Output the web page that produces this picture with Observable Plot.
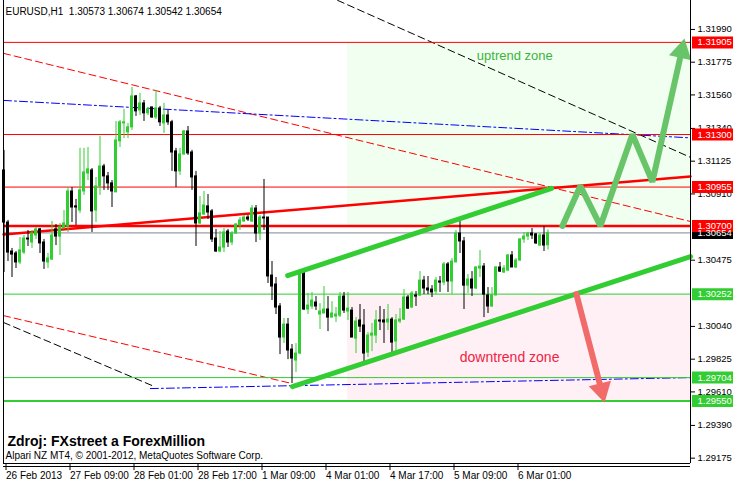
<!DOCTYPE html>
<html><head><meta charset="utf-8">
<script src="https://cdn.jsdelivr.net/npm/d3@7"></script>
<script src="https://cdn.jsdelivr.net/npm/@observablehq/plot@0.6"></script>
<style>body{margin:0;background:#fff}</style>
</head><body><div id="chart"></div>
<script>
// ---- data (EURUSD H1) ----
const open = [1.31064,1.30722,1.30532,1.30519,1.30460,1.30525,1.30617,1.30591,1.30637,1.30677,1.30591,1.30460,1.30479,1.30677,1.30630,1.30683,1.30696,1.30926,1.30828,1.30801,1.30926,1.31044,1.31064,1.30801,1.30959,1.31090,1.31025,1.30979,1.30920,1.31255,1.31373,1.31314,1.31347,1.31550,1.31458,1.31504,1.31439,1.31478,1.31412,1.31471,1.31373,1.31425,1.31380,1.31189,1.31058,1.31169,1.31320,1.31182,1.31025,1.30716,1.30775,1.30828,1.30795,1.30617,1.30532,1.30558,1.30663,1.30591,1.30650,1.30703,1.30729,1.30755,1.30729,1.30814,1.30650,1.30755,1.30755,1.30374,1.30315,1.30171,1.29967,1.30052,1.29888,1.29816,1.29862,1.30394,1.30151,1.30171,1.30197,1.30118,1.30125,1.30151,1.30098,1.30105,1.30111,1.30236,1.30138,1.30144,1.29960,1.30079,1.30046,1.29868,1.29980,1.29980,1.30079,1.30079,1.30066,1.30085,1.29941,1.30072,1.30085,1.30230,1.30164,1.30243,1.30243,1.30341,1.30289,1.30282,1.30269,1.30335,1.30328,1.30447,1.30335,1.30460,1.30650,1.30598,1.30308,1.30348,1.30289,1.30420,1.30433,1.30243,1.30171,1.30243,1.30427,1.30394,1.30407,1.30506,1.30427,1.30473,1.30611,1.30630,1.30650,1.30644,1.30571,1.30637,1.30573];
const high = [1.31196,1.30736,1.30552,1.30532,1.30624,1.30637,1.30670,1.30670,1.30690,1.30683,1.30611,1.30519,1.30729,1.30709,1.30716,1.30801,1.30952,1.30952,1.30874,1.31209,1.31209,1.31215,1.31077,1.31018,1.31288,1.31104,1.31051,1.30998,1.31386,1.31393,1.31465,1.31373,1.31609,1.31557,1.31570,1.31524,1.31478,1.31478,1.31590,1.31485,1.31504,1.31458,1.31393,1.31209,1.31209,1.31327,1.31353,1.31196,1.31058,1.30893,1.30926,1.30906,1.30808,1.30677,1.30663,1.30683,1.30677,1.30663,1.30716,1.30755,1.30768,1.30768,1.30834,1.30834,1.30768,1.31005,1.30755,1.30466,1.30361,1.30190,1.30092,1.30092,1.29921,1.29928,1.30394,1.30407,1.30256,1.30263,1.30236,1.30190,1.30302,1.30236,1.30203,1.30164,1.30263,1.30263,1.30263,1.30164,1.30098,1.30184,1.30151,1.29999,1.30059,1.30144,1.30171,1.30151,1.30184,1.30098,1.30118,1.30157,1.30282,1.30243,1.30269,1.30269,1.30400,1.30368,1.30368,1.30308,1.30361,1.30368,1.30460,1.30460,1.30486,1.30670,1.30742,1.30624,1.30381,1.30400,1.30433,1.30539,1.30453,1.30295,1.30295,1.30433,1.30460,1.30440,1.30512,1.30532,1.30486,1.30617,1.30657,1.30657,1.30683,1.30650,1.30650,1.30696,1.30674];
const low = [1.30394,1.30466,1.30361,1.30420,1.30447,1.30512,1.30565,1.30552,1.30611,1.30519,1.30414,1.30420,1.30473,1.30571,1.30506,1.30683,1.30657,1.30722,1.30703,1.30782,1.30900,1.30998,1.30657,1.30722,1.30900,1.30933,1.30933,1.30821,1.30920,1.31215,1.31274,1.31274,1.31327,1.31419,1.31425,1.31386,1.31425,1.31406,1.31399,1.31353,1.31307,1.31360,1.31058,1.30952,1.31031,1.31163,1.31163,1.30933,1.30565,1.30709,1.30768,1.30742,1.30591,1.30525,1.30525,1.30525,1.30558,1.30571,1.30644,1.30670,1.30722,1.30729,1.30722,1.30591,1.30604,1.30670,1.30322,1.30210,1.30118,1.29855,1.29928,1.29822,1.29665,1.29737,1.29855,1.30144,1.30118,1.30151,1.30144,1.30020,1.30125,1.30006,1.30098,1.30066,1.30098,1.30125,1.30079,1.29967,1.29862,1.30000,1.29809,1.29836,1.29875,1.29928,1.30013,1.29928,1.30013,1.29842,1.29868,1.30059,1.30079,1.30151,1.30157,1.30171,1.30236,1.30249,1.30249,1.30230,1.30249,1.30263,1.30308,1.30263,1.30249,1.30460,1.30519,1.30151,1.30256,1.30236,1.30282,1.30361,1.30098,1.30125,1.30164,1.30243,1.30394,1.30387,1.30400,1.30427,1.30420,1.30466,1.30585,1.30604,1.30611,1.30578,1.30565,1.30532,1.30542];
const close = [1.30722,1.30525,1.30512,1.30460,1.30539,1.30617,1.30611,1.30650,1.30677,1.30585,1.30466,1.30486,1.30637,1.30630,1.30690,1.30716,1.30926,1.30821,1.30821,1.30933,1.31051,1.31071,1.30795,1.30959,1.31090,1.31025,1.30979,1.30926,1.31261,1.31380,1.31380,1.31347,1.31550,1.31452,1.31504,1.31439,1.31465,1.31412,1.31471,1.31380,1.31425,1.31380,1.31182,1.31058,1.31169,1.31320,1.31176,1.31018,1.30716,1.30782,1.30834,1.30788,1.30611,1.30532,1.30558,1.30657,1.30591,1.30650,1.30709,1.30736,1.30755,1.30742,1.30814,1.30650,1.30755,1.30749,1.30368,1.30302,1.30164,1.29967,1.30052,1.29882,1.29829,1.29862,1.30381,1.30151,1.30177,1.30210,1.30171,1.30138,1.30151,1.30098,1.30125,1.30118,1.30236,1.30144,1.30157,1.29967,1.30072,1.30039,1.29862,1.29980,1.29993,1.30079,1.30072,1.30066,1.30085,1.29934,1.30079,1.30085,1.30230,1.30157,1.30256,1.30236,1.30341,1.30289,1.30276,1.30263,1.30341,1.30328,1.30447,1.30335,1.30466,1.30650,1.30598,1.30308,1.30348,1.30289,1.30427,1.30433,1.30249,1.30171,1.30243,1.30427,1.30400,1.30420,1.30506,1.30427,1.30473,1.30611,1.30630,1.30650,1.30637,1.30585,1.30637,1.30571,1.30654];

const priceTicks = [1.31990,1.31775,1.31560,1.31340,1.31125,1.30910,1.30475,1.30040,1.29825,1.29610,1.29390,1.29175];
const dateTickBars = [0,16,32,48,64,80,96,112,128];
const dateTickLabels = ["26 Feb 2013","27 Feb 09:00","28 Feb 01:00","28 Feb 17:00","1 Mar 09:00","4 Mar 01:00","4 Mar 17:00","5 Mar 09:00","6 Mar 01:00"];

const redLevels = [1.31905, 1.31300, 1.30955];
const redThickLevel = 1.30700;
const greenLevels = [1.30252, 1.29704];
const greenThickLevel = 1.29550;
const bidPrice = 1.30654;

// trend lines: [bar, price]
const redDashUpper = [[-0.125,1.31833],[171.625,1.30729]];
const redDashLower = [[-0.125,1.30111],[72,1.29665]];
const blackDashUpper = [[83.4,1.32181],[171.625,1.31150]];
const blackDashLower = [[-0.125,1.30066],[37,1.29652]];
const blueUpper = [[-0.125,1.31524],[171.625,1.31278]];
const blueLower = [[36.6,1.29632],[171.625,1.29704]];
const redRising = [[-0.125,1.30644],[171.625,1.31025]];
const greenChannelUpper = [[70.9,1.30374],[136.9,1.30946]];
const greenChannelLower = [[72.1,1.29645],[171.625,1.30499]];
const upPath = [[139.6,1.30700],[144.1,1.30962],[149.1,1.30700],[157.1,1.31300],[162.1,1.30990],[169.4,1.31846]];
const downPath = [[143.1,1.30252],[149.35,1.29623]];

const uptrendZone = {x1: 85.875, y1: 1.30700, y2: 1.31905};
const downtrendZone = {x1: 85.875, y1: 1.29550, y2: 1.30252};

const header = "EURUSD,H1  1.30573 1.30674 1.30542 1.30654";
const caption = "Zdroj: FXstreet a ForexMillion";
const copyright = "Alpari NZ MT4, © 2001-2012, MetaQuotes Software Corp.";

// ---- build ----
const xMin = -0.125, xMax = 171.625, yMin = 1.29140, yMax = 1.32180;
const candles = open.map((o, i) => ({i, open: o, high: high[i], low: low[i], close: close[i]}));
const cColor = d => d.close >= d.open ? "#32cd32" : "#000000";
const pts = a => a.map(([x, y]) => ({x, y}));
const labelMap = new Map(dateTickBars.map((b, i) => [b, dateTickLabels[i]]));
const RED = "#ff0000", GREEN = "#32cd32";

const levelLabels = [
  {p: bidPrice, bg: "#000000"},
  ...redLevels.map(p => ({p, bg: RED})),
  {p: redThickLevel, bg: RED},
  ...greenLevels.map(p => ({p, bg: GREEN})),
  {p: greenThickLevel, bg: GREEN}
];

const chart = Plot.plot({
  width: 733, height: 482,
  marginLeft: 3, marginRight: 43, marginTop: 0, marginBottom: 19,
  x: {domain: [xMin, xMax], axis: null},
  y: {domain: [yMin, yMax], axis: null},
  style: {fontFamily: "'Liberation Sans', Arial, sans-serif", fontSize: "10px", background: "#ffffff", overflow: "visible", color: "#000"},
  marks: [
    // zones
    Plot.rect([uptrendZone], {x1: "x1", x2: () => xMax, y1: "y1", y2: "y2", fill: "#f0fff0"}),
    Plot.rect([downtrendZone], {x1: "x1", x2: () => xMax, y1: "y1", y2: "y2", fill: "#fff0f5"}),
    // dashed indicator lines
    Plot.line(pts(redDashUpper), {x: "x", y: "y", stroke: RED, strokeDasharray: "7,4", strokeWidth: 1}),
    Plot.line(pts(redDashLower), {x: "x", y: "y", stroke: RED, strokeDasharray: "7,4", strokeWidth: 1}),
    Plot.line(pts(blackDashUpper), {x: "x", y: "y", stroke: "#000", strokeDasharray: "7,4", strokeWidth: 1, clip: true}),
    Plot.line(pts(blackDashLower), {x: "x", y: "y", stroke: "#000", strokeDasharray: "7,4", strokeWidth: 1}),
    Plot.line(pts(blueUpper), {x: "x", y: "y", stroke: "#0000ff", strokeDasharray: "8,3,2,3", strokeWidth: 1}),
    Plot.line(pts(blueLower), {x: "x", y: "y", stroke: "#0000ff", strokeDasharray: "8,3,2,3", strokeWidth: 1}),
    // levels
    Plot.ruleY([bidPrice], {stroke: "#808890", strokeWidth: 1}),
    Plot.ruleY(redLevels, {stroke: RED, strokeWidth: 1}),
    Plot.ruleY([redThickLevel], {stroke: RED, strokeWidth: 2.5}),
    Plot.ruleY(greenLevels, {stroke: GREEN, strokeWidth: 1}),
    Plot.ruleY([greenThickLevel], {stroke: GREEN, strokeWidth: 2}),
    Plot.line(pts(redRising), {x: "x", y: "y", stroke: RED, strokeWidth: 2.5}),
    // candles
    Plot.ruleX(candles, {x: "i", y1: "low", y2: "high", stroke: cColor, strokeWidth: 1}),
    Plot.rect(candles, {x1: d => d.i - 0.25, x2: d => d.i + 0.25, y1: "open", y2: "close", fill: cColor, stroke: cColor, strokeWidth: 1}),
    // channel
    Plot.line(pts(greenChannelUpper), {x: "x", y: "y", stroke: GREEN, strokeWidth: 5}),
    Plot.line(pts(greenChannelLower), {x: "x", y: "y", stroke: GREEN, strokeWidth: 5}),
    // arrows
    Plot.line(pts(upPath), {x: "x", y: "y", stroke: "#68c468", strokeWidth: 6, strokeLinejoin: "miter"}),
    Plot.dot([upPath[upPath.length - 1]], {x: d => d[0], y: d => d[1], symbol: "triangle", r: 8.5, rotate: 12.4, fill: "#68c468"}),
    Plot.line(pts(downPath), {x: "x", y: "y", stroke: "#f26b6b", strokeWidth: 6}),
    Plot.dot([downPath[downPath.length - 1]], {x: d => d[0], y: d => d[1], symbol: "triangle", r: 8.5, rotate: 166.3, fill: "#f26b6b"}),
    // zone texts
    Plot.text(["uptrend zone"], {x: () => 127.7, y: () => 1.31820, text: d => d, fill: "#3cb43c", fontSize: 13}),
    Plot.text(["downtrend zone"], {x: () => 126.4, y: () => 1.29835, text: d => d, fill: "#ee2244", fontSize: 14}),
    // frame
    Plot.ruleX([xMin], {stroke: "#000", strokeWidth: 1}),
    Plot.ruleX([xMax], {y1: yMin, y2: yMax, stroke: "#000", strokeWidth: 1, dy: 0}),
    Plot.ruleY([yMin], {stroke: "#000", strokeWidth: 1}),
    Plot.ruleY([yMin], {stroke: "#000", strokeWidth: 1, dy: 3}),
    // axes
    Plot.axisY(priceTicks, {anchor: "right", tickFormat: d => d.toFixed(5), tickSize: 4, tickPadding: 3, fontSize: 9.5}),
    Plot.axisX(dateTickBars, {anchor: "bottom", tickFormat: d => labelMap.get(d), tickSize: 7, tickPadding: 1, textAnchor: "start", dx: 2, fontSize: 10}),
    // level labels
    Plot.ruleY(levelLabels, {y: "p", x1: () => xMax + 0.5, x2: () => xMax + 10.8, stroke: "bg", strokeWidth: 12}),
    Plot.text(levelLabels, {y: "p", x: () => xMax, dx: 7, text: d => d.p.toFixed(5), textAnchor: "start", fill: "#ffffff", fontSize: 9.5}),
    // texts
    Plot.text([header], {frameAnchor: "top-left", dx: 2, dy: 11, text: d => d, textAnchor: "start", lineAnchor: "middle", fontSize: 10, fill: "#000"}),
    Plot.text([caption], {frameAnchor: "bottom-left", dx: 4, dy: -22, text: d => d, textAnchor: "start", lineAnchor: "middle", fontSize: 14, fontWeight: "bold", fill: "#000"}),
    Plot.text([copyright], {frameAnchor: "bottom-left", dx: 2, dy: -8, text: d => d, textAnchor: "start", lineAnchor: "middle", fontSize: 10, fill: "#000"})
  ]
});
document.getElementById("chart").appendChild(chart);
</script>
</body></html>
